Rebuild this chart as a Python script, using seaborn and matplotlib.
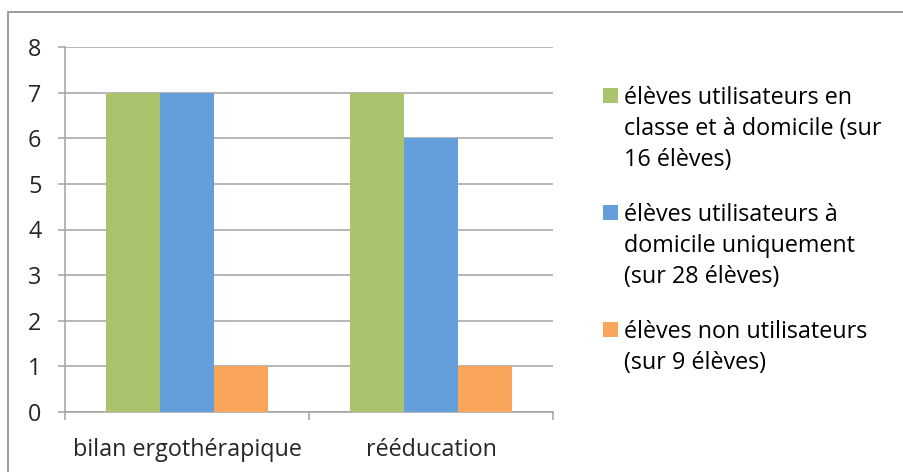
import pandas as pd
import seaborn as sns
import matplotlib.pyplot as plt
from matplotlib.patches import Rectangle

# Chart data
categories = ["bilan ergothérapique", "rééducation"]
series_names = [
    "élèves utilisateurs en\nclasse et à domicile (sur\n16 élèves)",
    "élèves utilisateurs à\ndomicile uniquement\n(sur 28 élèves)",
    "élèves non utilisateurs\n(sur 9 élèves)",
]
classe_domicile = [7, 7]
domicile_seul = [7, 6]
non_utilisateurs = [1, 1]
colors = ["#A9C46C", "#659FDB", "#F9A55A"]

rows = []
for name, vals in zip(series_names, [classe_domicile, domicile_seul, non_utilisateurs]):
    for cat, v in zip(categories, vals):
        rows.append({"categorie": cat, "serie": name, "valeur": v})
df = pd.DataFrame(rows)

sns.set_style("white")
plt.rcParams['font.family'] = ['Open Sans', 'DejaVu Sans']
fs = 16.8

W, H = 904, 472
fig = plt.figure(figsize=(W / 100, H / 100), dpi=100)
ax = fig.add_axes([65 / W, 1 - 412 / H, (553 - 65) / W, (412 - 47) / H])

sns.barplot(data=df, x="categorie", y="valeur", hue="serie", palette=colors,
            width=0.664, gap=0, saturation=1, linewidth=0, legend=False,
            ax=ax, zorder=3)

grey = "#A3A3A3"
ax.set_xlim(-0.5, 1.5)
ax.set_ylim(0, 8)
ax.set_yticks(range(0, 9))
ax.yaxis.grid(True, color=grey, linewidth=1.1, zorder=0)
ax.set_axisbelow(True)
for s in ["top", "right"]:
    ax.spines[s].set_visible(False)
for s in ["left", "bottom"]:
    ax.spines[s].set_color(grey)
    ax.spines[s].set_linewidth(1.1)
ax.set_xlabel("")
ax.set_ylabel("")
ax.tick_params(axis="y", which="major", direction="out", length=5, width=1.1,
               color=grey, left=True, pad=12, labelsize=fs)
ax.set_xticks([-0.5, 0.5, 1.5], minor=True)
ax.tick_params(axis="x", which="minor", direction="out", length=6, width=1.1,
               color=grey, bottom=True)
ax.tick_params(axis="x", which="major", length=0, pad=19, labelsize=fs)

# legend drawn by hand so the squares sit on the first line
line_step = 31 / H
for i, (name, col) in enumerate(zip(series_names, colors)):
    y_first = 1 - (98 + i * 117) / H
    fig.patches.append(Rectangle((603 / W, y_first - 5 / H), 15 / W, 15 / H,
                                 transform=fig.transFigure, facecolor=col,
                                 edgecolor="none"))
    for j, line in enumerate(name.split("\n")):
        fig.text(624 / W, y_first - j * line_step, line, fontsize=fs,
                 va="center", ha="left", color="black")

# outer chart frame (cropped on right and bottom)
fig.patches.append(Rectangle((8 / W, -0.05), 1.2, 1 - 12 / H + 0.05,
                             transform=fig.transFigure, facecolor="none",
                             edgecolor="#8C8C8C", linewidth=1.2))

fig.savefig("out.png", dpi=100)
